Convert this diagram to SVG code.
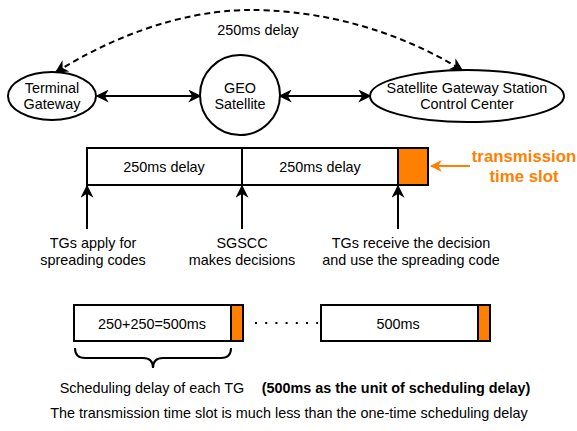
<svg xmlns="http://www.w3.org/2000/svg" width="577" height="431" viewBox="0 0 577 431">
<style>
text{font-family:"Liberation Sans",Arial,sans-serif;font-size:14.4px;fill:#000;text-anchor:middle}
.b{font-weight:bold}
.o{fill:#FF8000;font-size:16.8px}
.n{fill:#fff;stroke:#000;stroke-width:2}
.e{fill:none;stroke:#000;stroke-width:2}
.or{fill:#FF8000;stroke:#000;stroke-width:2}
</style>
<defs>
<marker id="ao" viewBox="0 0 10 10" refX="9" refY="5" markerWidth="12" markerHeight="12" orient="auto" markerUnits="userSpaceOnUse">
<path d="M0,0 L10,5 L0,10 L3,5 Z" fill="#FF8000"/>
</marker>
<marker id="ab" viewBox="0 0 10 10" refX="9" refY="5" markerWidth="13" markerHeight="13" orient="auto-start-reverse" markerUnits="userSpaceOnUse">
<path d="M0,0 L10,5 L0,10 L3,5 Z" fill="#000"/>
</marker>
</defs>
<g id="connectors">
<path class="e" d="M97,96 L200,96" marker-start="url(#ab)" marker-end="url(#ab)"/>
<path class="e" d="M280,96 L370,96" marker-start="url(#ab)" marker-end="url(#ab)"/>
<path class="e" d="M56,72 C140,20 210,10 250,10 C300,10 380,20 462,70" stroke-dasharray="6,4" marker-start="url(#ab)" marker-end="url(#ab)"/>
<path class="e" d="M87,229 L87,186" marker-end="url(#ab)"/>
<path class="e" d="M242,229 L242,186" marker-end="url(#ab)"/>
<path class="e" d="M398,229 L398,186" marker-end="url(#ab)"/>
<path d="M470,166 L431,166" fill="none" stroke="#FF8000" stroke-width="2" marker-end="url(#ao)"/>
<path d="M255,323 L318,323" fill="none" stroke="#000" stroke-width="2" stroke-dasharray="2,8.2"/>
<path class="e" d="M75,348 Q75,358 85,358 L143,358 Q153,358 153,368 Q153,358 163,358 L221,358 Q231,358 231,348"/>
</g>
<g id="terminal-gateway">
<ellipse class="n" cx="52" cy="96" rx="44" ry="24"/>
<text x="52" y="93">Terminal</text>
<text x="52" y="109">Gateway</text>
</g>
<g id="geo-satellite">
<circle class="n" cx="240" cy="95" r="40"/>
<text x="240" y="93">GEO</text>
<text x="240" y="109">Satellite</text>
</g>
<g id="sgscc">
<ellipse class="n" cx="467" cy="96" rx="97" ry="26"/>
<text x="467" y="93">Satellite Gateway Station</text>
<text x="467" y="109">Control Center</text>
</g>
<text x="258" y="35">250ms delay</text>
<g id="timeline">
<rect class="n" x="87" y="148" width="155" height="37"/>
<rect class="n" x="242" y="148" width="156" height="37"/>
<rect class="or" x="398" y="148" width="30" height="37"/>
<text x="164" y="172">250ms delay</text>
<text x="320" y="172">250ms delay</text>
</g>
<g id="slot-label">
<text class="b o" x="524" y="162">transmission</text>
<text class="b o" x="524" y="182">time slot</text>
</g>
<g id="events">
<text x="93" y="248">TGs apply for</text>
<text x="93" y="265">spreading codes</text>
<text x="242" y="248">SGSCC</text>
<text x="242" y="265">makes decisions</text>
<text x="411" y="248">TGs receive the decision</text>
<text x="411" y="265">and use the spreading code</text>
</g>
<g id="schedule1">
<rect class="n" x="74" y="305" width="157" height="36"/>
<rect class="or" x="231" y="305" width="12" height="36"/>
<text x="152" y="329">250+250=500ms</text>
</g>
<g id="schedule2">
<rect class="n" x="321" y="305" width="157" height="36"/>
<rect class="or" x="478" y="305" width="12" height="36"/>
<text x="398" y="329">500ms</text>
</g>
<text x="152" y="393">Scheduling delay of each TG</text>
<text class="b" x="396" y="393">(500ms as the unit of scheduling delay)</text>
<text x="289" y="418">The transmission time slot is much less than the one-time scheduling delay</text>
</svg>
